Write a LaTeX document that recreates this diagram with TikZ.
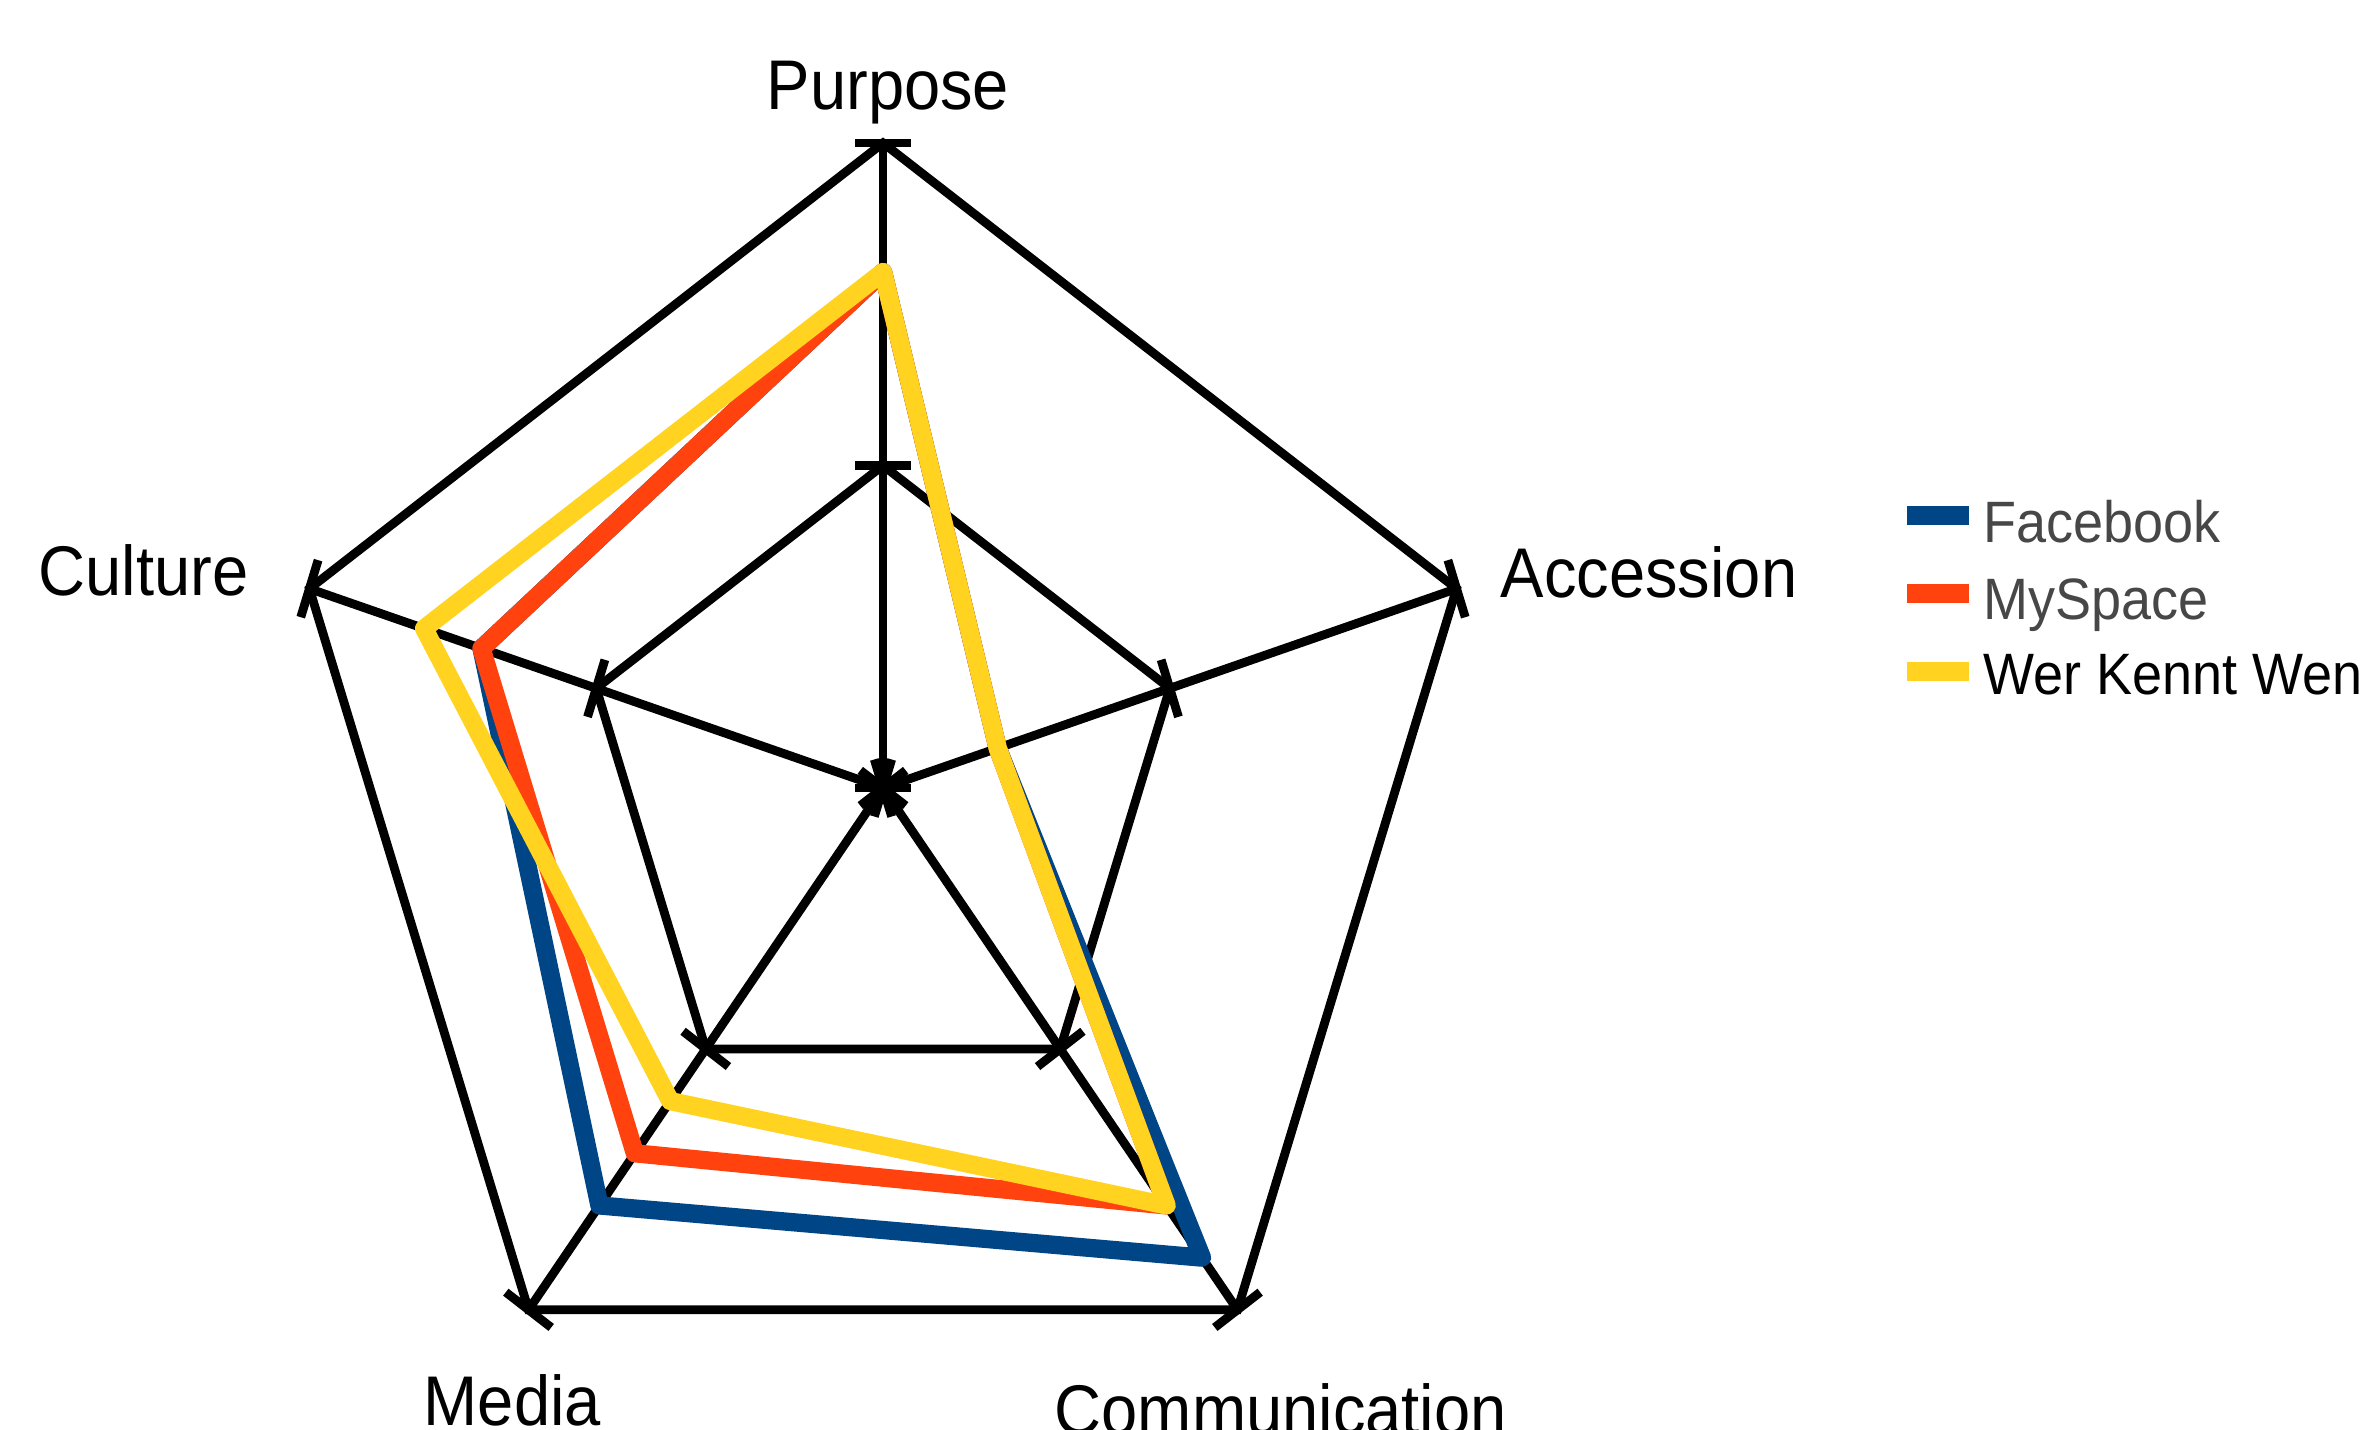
\documentclass[tikz,border=0pt]{standalone}
\usepackage{fontspec}
\setmainfont{Liberation Sans}[FakeStretch=0.925]
\usetikzlibrary{calc}
\definecolor{fbblue}{HTML}{004586}
\definecolor{msred}{HTML}{FF420E}
\definecolor{wkwyellow}{HTML}{FFD320}
\tikzset{
	axisline/.style={line width=2.5pt, black},
	series/.style={line width=5.2pt, line join=round, draw=#1},
	axislabel/.style={font=\fontsize{20}{24}\selectfont, inner sep=0pt},
	legendlabel/.style={font=\fontsize{16.6}{20}\selectfont, inner sep=0pt, anchor=base west}
}
\begin{document}
\begin{tikzpicture}[x=0.01cm, y=-0.01cm]
		\useasboundingbox (0,0) rectangle (2368,1430);

		\begin{scope}[shift={(883,788)}, xscale=0.935, yscale=-1]
			% Draw the spokes and their ticks
			\foreach \a/\n in {90/pur, 18/acc, -54/com, -126/med, 162/cul} {
				\coordinate (\n) at (\a:645);
				\coordinate (\n-half) at (\a:322.5);
				\draw[axisline] (0,0) -- (\n);
				\foreach \r in {0, 322.5, 645}
					\draw[axisline] ($(\a:\r)+(\a+90:30)$) -- ($(\a:\r)+(\a-90:30)$);
			}

			% Draw the two rings
			\draw[axisline] (pur-half) -- (acc-half) -- (com-half) -- (med-half) -- (cul-half) -- cycle;
			\draw[axisline] (pur) -- (acc) -- (com) -- (med) -- (cul) -- cycle;

			% Draw the three series
			\foreach \c/\p/\ac/\co/\me/\cu in {fbblue/.8/.2/.9/.8/.7, msred/.8/.2/.8/.7/.7, wkwyellow/.8/.2/.8/.6/.8}
				\draw[series=\c] (90:\p*645) -- (18:\ac*645) -- (-54:\co*645) -- (-126:\me*645) -- (162:\cu*645) -- cycle;
		\end{scope}

		% Axis names
		\node[axislabel, anchor=base] (purpose) at (888,110) {Purpose};
		\node[axislabel, anchor=base west] (accession) at (1500,597) {Accession};
		\node[axislabel, anchor=base west] (culture) at (38,595) {Culture};
		\node[axislabel, anchor=base west] (media) at (423,1425) {Media};
		\node[axislabel, anchor=base west] (communication) at (1054,1434) {Communication};

		% Legend
		\fill[fbblue] (1907,506) rectangle (1969,525);
		\fill[msred] (1907,584) rectangle (1969,603);
		\fill[wkwyellow] (1907,662) rectangle (1969,681);
		\node[legendlabel, text=black!72] (facebook) at (1983,542) {Facebook};
		\node[legendlabel, text=black!72] (myspace) at (1983,619) {MySpace};
		\node[legendlabel] (wkw) at (1983,694) {Wer Kennt Wen};
	\end{tikzpicture}
\end{document}
